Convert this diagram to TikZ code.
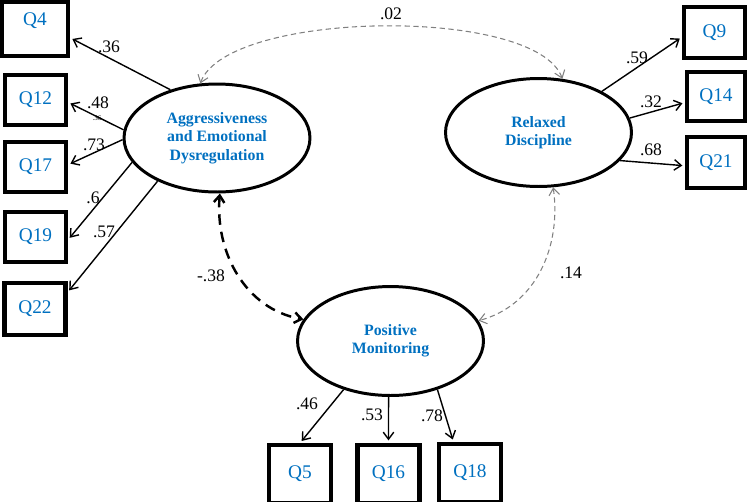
\documentclass[tikz,border=0pt]{standalone}
\usepackage{fontspec}
\setmainfont{Liberation Serif}
\usetikzlibrary{arrows.meta,shapes.geometric}
\definecolor{itemblue}{RGB}{0,112,192}

\begin{document}
\begin{tikzpicture}[x=0.02cm,y=-0.02cm,
  item/.style={draw,line width=2.3pt,minimum width=1.22cm,minimum height=1cm,inner sep=0pt,text=itemblue,font=\fontsize{11}{12}\selectfont},
  factor/.style={draw,ellipse,line width=1.7pt,minimum width=3.72cm,minimum height=2.16cm,inner sep=0pt,text=itemblue,align=center,font=\bfseries\fontsize{9}{10.5}\selectfont},
  load/.style={-{Straight Barb[length=4pt,width=6pt]},line width=0.8pt,shorten >=1.5pt},
  cov/.style={{Straight Barb[length=4pt,width=6pt]}-{Straight Barb[length=4pt,width=6pt]},line width=0.6pt,dash pattern=on 3pt off 2pt},
  coef/.style={font=\fontsize{10}{12}\selectfont,inner sep=0pt}]
  \useasboundingbox (0,0) rectangle (749,501);

  % latent factors
  \node[factor] (aed) at (217,138) {Aggressiveness\\and Emotional\\Dysregulation};
  \node[factor,minimum height=2.16cm] (rd) at (538.5,132.5) {Relaxed\\Discipline};
  \node[factor,minimum height=2.18cm] (pm) at (390.5,341) {Positive\\Monitoring};

  % items
  \node[item,minimum width=1.32cm,minimum height=1.08cm,text depth=0.4cm] (q4) at (35,29) {Q4};
  \node[item] (q12) at (35.5,100) {Q12};
  \node[item] (q17) at (35.5,167) {Q17};
  \node[item] (q19) at (35.5,237) {Q19};
  \node[item,minimum height=1.04cm] (q22) at (35,309) {Q22};
  \node[item,minimum height=1.02cm] (q9) at (714.5,32.5) {Q9};
  \node[item,minimum width=1.16cm,minimum height=0.98cm] (q14) at (716,96.5) {Q14};
  \node[item,minimum width=1.16cm,minimum height=1.02cm] (q21) at (716,162.5) {Q21};
  \node[item,minimum width=1.24cm,minimum height=1.16cm] (q5) at (300,474) {Q5};
  \node[item,minimum width=1.24cm,minimum height=1.16cm] (q16) at (388.5,474) {Q16};
  \node[item,minimum width=1.24cm,minimum height=1.16cm] (q18) at (470,473) {Q18};

  % loadings
  \draw[load] (aed.134) -- (q4.-14);
  \draw[load] (aed.175) -- (q12.-4);
  \draw[load] (aed.181) -- (q17.4);
  \draw[load] (aed.196) -- (q19.-5);
  \draw[load] (aed.216) -- (q22.27);
  \draw[load] (rd.33) -- (q9.188);
  \draw[load] (rd.9) -- (q14.191);
  \draw[load] (rd.-19) -- (q21.186);
  \draw[load] (pm.226) -- (q5.north);
  \draw[load] (pm.268) -- (q16.north);
  \draw[load] (pm.314) -- (q18.118);

  % correlations
  \draw[cov,gray] (aed.107) to[out=70,in=110,looseness=0.55] (rd.66);
  \draw[cov,line width=1.4pt,dash pattern=on 6pt off 4pt] (aed.273) to[out=265,in=170] (pm.166);
  \draw[cov,gray] (rd.285) to[out=278,in=15] (pm.13);

  % coefficients
  \node[coef] (c02) at (391,14) {.02};
  \node[coef] (c36) at (109,47) {.36};
  \node[coef] (c48) at (98,103) {.48};
  \node[coef,font=\fontsize{4}{5}\selectfont] (c36b) at (97,118) {.36};
  \node[coef] (c73) at (94,145) {.73};
  \node[coef] (c6) at (93,198) {.6};
  \node[coef] (c57) at (104,232) {.57};
  \node[coef] (c59) at (637,58) {.59};
  \node[coef] (c32) at (651,102) {.32};
  \node[coef] (c68) at (651,150) {.68};
  \node[coef] (cm38) at (211,276) {-.38};
  \node[coef] (c14) at (571,273) {.14};
  \node[coef] (c46) at (307,404) {.46};
  \node[coef] (c53) at (372,415) {.53};
  \node[coef] (c78) at (432,416) {.78};
\end{tikzpicture}
\end{document}
